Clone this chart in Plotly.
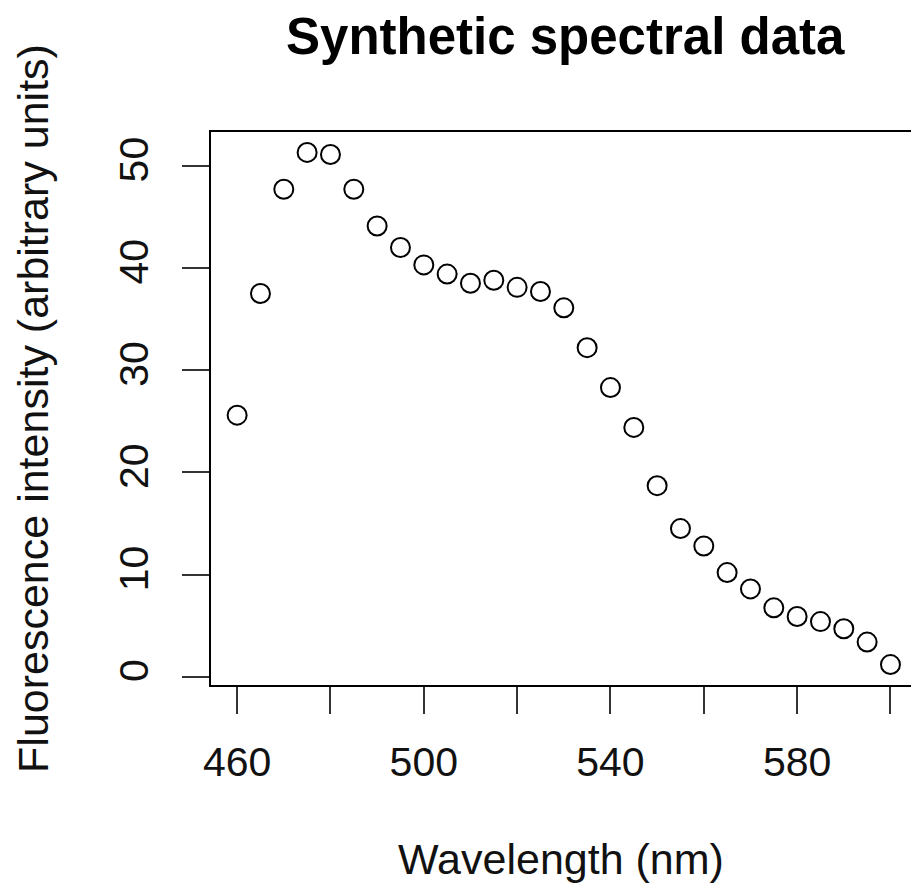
import plotly.graph_objects as go

wavelength = [460, 465, 470, 475, 480, 485, 490, 495, 500, 505, 510, 515, 520, 525,
              530, 535, 540, 545, 550, 555, 560, 565, 570, 575, 580, 585, 590, 595, 600]
intensity = [25.6, 37.5, 47.7, 51.3, 51.1, 47.7, 44.1, 42.0, 40.3, 39.4, 38.5, 38.8, 38.1, 37.7,
             36.1, 32.2, 28.3, 24.4, 18.7, 14.5, 12.8, 10.2, 8.6, 6.75, 5.9, 5.4, 4.7, 3.4, 1.2]

x_tickvals = [460, 480, 500, 520, 540, 560, 580, 600]
x_ticktext = ["460", "", "500", "", "540", "", "580", ""]
y_tickvals = [0, 10, 20, 30, 40, 50]
y_ticktext = ["0", "10", "20", "30", "40", "50"]

title_text = "Synthetic spectral data"
x_title = "Wavelength (nm)"
y_title = "Fluorescence intensity (arbitrary units)"

FONT = "Liberation Sans, Arial, Helvetica, sans-serif"

fig = go.Figure()
fig.add_trace(go.Scatter(
    x=wavelength, y=intensity, mode="markers",
    marker=dict(symbol="circle-open", size=19, color="black", line=dict(width=2, color="black")),
    showlegend=False, cliponaxis=False, hoverinfo="skip",
))

fig.update_layout(
    width=911, height=892,
    margin=dict(l=211, r=0, t=132, b=207, pad=0),
    paper_bgcolor="white", plot_bgcolor="white",
    font=dict(family=FONT, size=41, color="black"),
    title=dict(text="<b>" + title_text + "</b>", font=dict(family=FONT, size=51, color="black"),
               xref="paper", x=0.506, xanchor="center",
               yref="container", y=1 - 36 / 892, yanchor="middle"),
    xaxis=dict(
        range=[454.4, 604.4], tickvals=x_tickvals, ticktext=x_ticktext,
        showline=True, linecolor="black", linewidth=2, mirror=True,
        ticks="outside", ticklen=27, tickwidth=2, tickcolor="#333",
        showgrid=False, zeroline=False, ticklabelstandoff=13,
        tickfont=dict(family=FONT, size=41, color="#111"),
        title=dict(text=x_title, font=dict(family=FONT, size=43, color="#111"), standoff=60),
    ),
    yaxis=dict(
        range=[-0.8, 53.3], tickvals=y_tickvals, ticktext=y_ticktext,
        showline=True, linecolor="black", linewidth=2, mirror=False,
        ticks="outside", ticklen=27, tickwidth=2, tickcolor="#333",
        showgrid=False, zeroline=False, tickangle=-90, ticklabelstandoff=18,
        tickfont=dict(family=FONT, size=41, color="#111"),
        title=dict(text=y_title, font=dict(family=FONT, size=43, color="#111"), standoff=49),
    ),
)

fig.write_html(
    "out.html",
    config={"displayModeBar": False},
    post_script="document.body.style.margin='0';document.body.style.overflow='hidden';",
)
